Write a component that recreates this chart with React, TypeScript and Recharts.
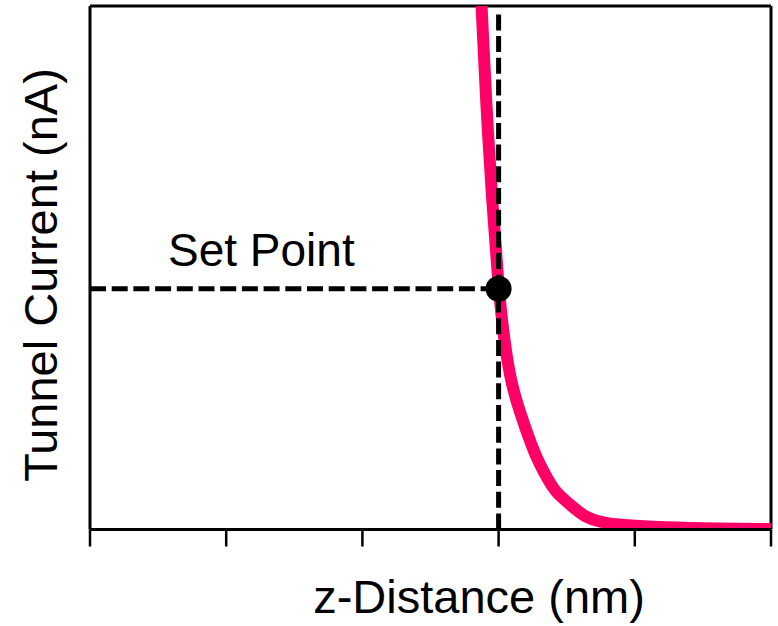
import {
  Label,
  Line,
  LineChart,
  ReferenceDot,
  ReferenceLine,
  XAxis,
  YAxis,
} from "recharts";

// z-distance (arbitrary units, 0..5) vs tunnel current (normalised 0..1)
const zDistance = [
  2.875, 2.907, 2.952, 3.0, 3.032, 3.084, 3.157, 3.245, 3.297, 3.363, 3.421, 3.546, 3.634, 3.744, 3.891, 4.111,
  4.479, 5.0,
];
const tunnelCurrent = [
  1.0, 0.82, 0.629, 0.46, 0.381, 0.286, 0.223, 0.158, 0.127, 0.095, 0.07, 0.043, 0.024, 0.014, 0.0086, 0.005,
  0.002, 0.001,
];
const xTicks = [0, 1, 2, 3, 4, 5];
const setPoint = { z: 3, current: 0.46 };

const data = zDistance.map((z, i) => ({ z, current: tunnelCurrent[i] }));

const FONT = "'Liberation Sans', Arial, Helvetica, sans-serif";
const DASH = "16 5.7";

export default function App() {
  return (
    <div style={{ position: "absolute", left: 0, top: 0, background: "#fff" }}>
      <LineChart width={778} height={626} data={data} margin={{ top: 6, right: 7, bottom: 0, left: 0 }}>
        <XAxis
          dataKey="z"
          type="number"
          domain={[0, 5]}
          ticks={xTicks}
          tickFormatter={() => ""}
          tickSize={17}
          height={96.5}
          axisLine={{ stroke: "#000", strokeWidth: 3 }}
          tickLine={{ stroke: "#000", strokeWidth: 2.5 }}
          allowDataOverflow
        >
          <Label
            content={() => (
              <text x={479} y={613} textAnchor="middle" fontFamily={FONT} fontSize={47} fill="#000">
                z-Distance (nm)
              </text>
            )}
          />
        </XAxis>
        <YAxis
          type="number"
          domain={[0, 1]}
          width={90}
          tick={false}
          tickLine={false}
          axisLine={{ stroke: "#000", strokeWidth: 3 }}
          allowDataOverflow
        >
          <Label
            content={() => (
              <text
                x={57}
                y={275}
                transform="rotate(-90, 57, 275)"
                textAnchor="middle"
                fontFamily={FONT}
                fontSize={47}
                fill="#000"
              >
                Tunnel Current (nA)
              </text>
            )}
          />
        </YAxis>
        <ReferenceLine y={1} stroke="#000" strokeWidth={3} />
        <ReferenceLine x={5} stroke="#000" strokeWidth={3} />
        <Line
          type="basis"
          dataKey="current"
          stroke="#ff0066"
          strokeWidth={12}
          dot={false}
          activeDot={false}
          isAnimationActive={false}
        />
        <ReferenceLine
          segment={[
            { x: 0, y: setPoint.current },
            { x: setPoint.z, y: setPoint.current },
          ]}
          stroke="#000"
          strokeWidth={5}
          strokeDasharray={DASH}
        >
          <Label
            content={() => (
              <text x={168} y={266} fontFamily={FONT} fontSize={46} fill="#000">
                Set Point
              </text>
            )}
          />
        </ReferenceLine>
        <ReferenceLine
          segment={[
            { x: setPoint.z, y: 0 },
            { x: setPoint.z, y: 0.985 },
          ]}
          stroke="#000"
          strokeWidth={5}
          strokeDasharray={DASH}
        />
        <ReferenceDot x={setPoint.z} y={setPoint.current} r={13} fill="#000" stroke="none" />
      </LineChart>
    </div>
  );
}
